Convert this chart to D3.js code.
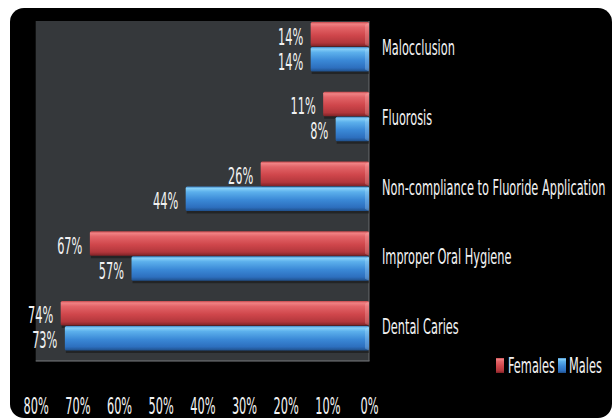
<!DOCTYPE html>
<html>
<head>
<meta charset="utf-8">
<script src="https://cdn.jsdelivr.net/npm/d3@7/dist/d3.min.js"></script>
<style>
  html, body { margin: 0; padding: 0; background: #ffffff; }
  svg { display: block; }
  text { font-family: "DejaVu Sans Condensed", "DejaVu Sans", sans-serif; fill: #f2f2f2; }
</style>
</head>
<body>
<svg id="chart" width="616" height="419"></svg>
<script>
// Oral health problems by sex (share of children affected)
const categories = ["Malocclusion", "Fluorosis", "Non-compliance to Fluoride Application", "Improper Oral Hygiene", "Dental Caries"];
const females = [0.14, 0.11, 0.26, 0.67, 0.74];
const males   = [0.14, 0.08, 0.44, 0.57, 0.73];
const seriesNames = ["Females", "Males"];
const tickValues = [0.8, 0.7, 0.6, 0.5, 0.4, 0.3, 0.2, 0.1, 0];

const svg = d3.select("#chart");

const plot = { left: 35.7, right: 369, top: 21, bottom: 361 };

// Gradients giving the bars their rounded, glossy look
const defs = svg.append("defs");
function barGradient(id, stops) {
  const g = defs.append("linearGradient").attr("id", id)
    .attr("x1", 0).attr("y1", 0).attr("x2", 0).attr("y2", 1);
  stops.forEach(([o, c]) => g.append("stop").attr("offset", o).attr("stop-color", c));
}
barGradient("gradF", [[0, "#c4464a"], [0.08, "#f08284"], [0.22, "#e36468"], [0.55, "#cf464b"], [0.85, "#b2373c"], [1, "#7e2226"]]);
barGradient("gradM", [[0, "#3f86c8"], [0.08, "#86d0f8"], [0.22, "#5cb0ec"], [0.55, "#3a88d6"], [0.85, "#2d6fbe"], [1, "#1f4f8a"]]);
const fills = ["url(#gradF)", "url(#gradM)"];

// Card background
svg.append("rect")
  .attr("x", 10).attr("y", 8).attr("width", 602).attr("height", 410)
  .attr("rx", 14).attr("ry", 14)
  .attr("fill", "#000000");

// Plot wall
svg.append("rect")
  .attr("x", plot.left).attr("y", plot.top)
  .attr("width", plot.right - plot.left).attr("height", plot.bottom - plot.top)
  .attr("fill", "#35383b");
svg.append("line")
  .attr("x1", plot.left).attr("x2", plot.right + 0.5)
  .attr("y1", plot.bottom).attr("y2", plot.bottom)
  .attr("stroke", "#7a7d80").attr("stroke-width", 1.2);
svg.append("line")
  .attr("x1", plot.right).attr("x2", plot.right)
  .attr("y1", plot.top).attr("y2", plot.bottom)
  .attr("stroke", "#6a6d70").attr("stroke-width", 1);

// Scales: values grow leftwards from the category labels
const x = d3.scaleLinear().domain([0, 0.8]).range([plot.right, plot.left]);
const y = d3.scaleBand().domain(categories).range([22, 351]).paddingInner(0.283).paddingOuter(0);
const sub = d3.scaleBand().domain(seriesNames).range([0, y.bandwidth()]).padding(0);

const rows = categories.map((c, i) => ({ cat: c, vals: [females[i], males[i]] }));

const groups = svg.append("g").selectAll("g.grp")
  .data(rows).join("g")
  .attr("class", "grp")
  .attr("transform", d => `translate(0,${y(d.cat)})`);

const bars = groups.selectAll("g.bar")
  .data(d => d.vals.map((v, j) => ({ v, j, s: seriesNames[j] })))
  .join("g").attr("class", "bar");

// soft shadow under each bar
bars.append("rect")
  .attr("x", d => x(d.v) + 1)
  .attr("y", d => sub(d.s) + 2)
  .attr("width", d => x(0) - x(d.v) - 1)
  .attr("height", sub.bandwidth())
  .attr("fill", "rgba(0,0,0,0.35)");

bars.append("rect")
  .attr("x", d => x(d.v))
  .attr("y", d => sub(d.s))
  .attr("width", d => x(0) - x(d.v))
  .attr("height", sub.bandwidth() - 0.5)
  .attr("rx", 1.5)
  .attr("fill", d => fills[d.j]);

// bevelled end where the bar meets the wall
bars.append("path")
  .attr("d", d => {
    const x0 = x(0), y0 = sub(d.s), h = sub.bandwidth() - 0.5;
    return `M${x0 - 4},${y0 + 3} L${x0},${y0} L${x0},${y0 + h} L${x0 - 4},${y0 + h - 2} Z`;
  })
  .attr("fill", d => d.j === 0 ? "rgba(255,200,200,0.25)" : "rgba(200,235,255,0.25)");

// Tall, narrow lettering: each label is squeezed sideways and stretched upright
function stretchedText(sel, sx, sy) {
  return sel.attr("transform", function () {
    const t = d3.select(this);
    return `translate(${t.attr("data-x")},${t.attr("data-y")}) scale(${sx},${sy})`;
  });
}

// Value labels
const valueLabels = bars.append("text")
  .attr("data-x", d => x(d.v) - 7.5)
  .attr("data-y", d => sub(d.s) + sub.bandwidth() / 2 + 10)
  .attr("text-anchor", "end")
  .attr("font-size", 15.2)
  .text(d => d3.format(".0%")(d.v));
stretchedText(valueLabels, 0.83, 1.55);

// Category labels
const catLabels = groups.append("text")
  .attr("data-x", 382)
  .attr("data-y", y.bandwidth() / 2 + 8)
  .attr("font-size", 15.4)
  .text(d => d.cat);
stretchedText(catLabels, 0.82, 1.36);

// X axis
const axis = d3.axisBottom(x).tickValues(tickValues).tickFormat(d3.format(".0%")).tickSize(0);
const axisG = svg.append("g").attr("transform", `translate(0,${plot.bottom})`).call(axis);
axisG.select(".domain").remove();
axisG.selectAll("text")
  .attr("y", null).attr("dy", null)
  .attr("fill", "#f2f2f2")
  .attr("font-size", 15.2)
  .attr("font-family", null)
  .attr("transform", "translate(0,53) scale(0.83,1.55)");

// Legend
const legend = svg.append("g").attr("transform", "translate(496,358)");
const legendItems = [
  { name: seriesNames[0], fill: fills[0], dx: 0, tx: 12 },
  { name: seriesNames[1], fill: fills[1], dx: 62, tx: 73 }
];
legend.selectAll("rect").data(legendItems).join("rect")
  .attr("x", d => d.dx).attr("y", 0).attr("width", 8).attr("height", 15)
  .attr("fill", d => d.fill);
const legText = legend.selectAll("text").data(legendItems).join("text")
  .attr("data-x", d => d.tx).attr("data-y", 15)
  .attr("font-size", 15.4)
  .text(d => d.name);
stretchedText(legText, 0.82, 1.36);
</script>
</body>
</html>
